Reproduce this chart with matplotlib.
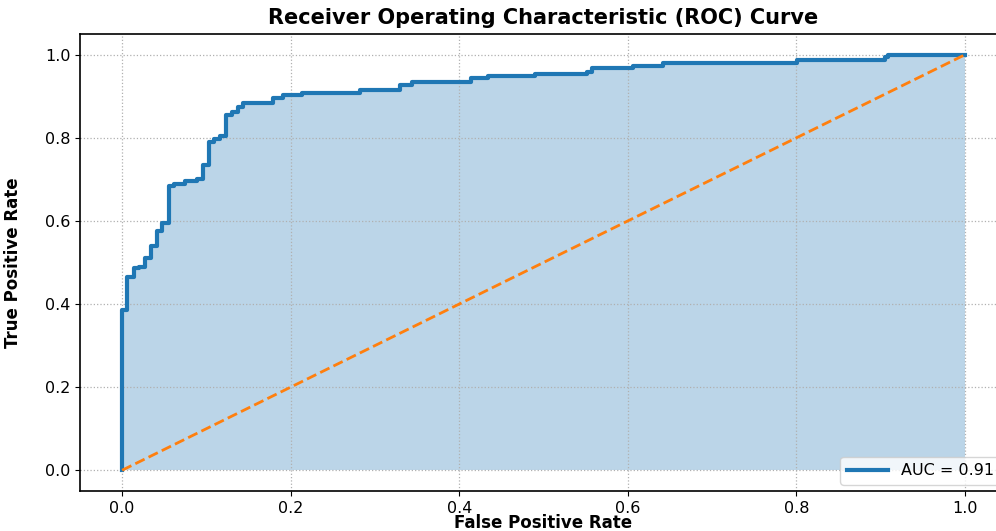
import matplotlib
matplotlib.use("Agg")
import matplotlib.pyplot as plt

# ROC-Kurve: Eckpunkte (x wo der Sprung kommt, neues y)
step_fpr = [0.0, 0.006, 0.014, 0.020, 0.027, 0.034, 0.041, 0.047, 0.056, 0.062,
            0.075, 0.089, 0.096, 0.103, 0.109, 0.116, 0.123, 0.130, 0.138, 0.144,
            0.179, 0.191, 0.214, 0.282, 0.330, 0.344, 0.414, 0.434, 0.490, 0.552,
            0.558, 0.606, 0.642, 0.801, 0.905, 0.909]
step_tpr = [0.385, 0.464, 0.486, 0.490, 0.510, 0.540, 0.575, 0.594, 0.685, 0.690,
            0.695, 0.702, 0.735, 0.790, 0.798, 0.805, 0.856, 0.863, 0.875, 0.885,
            0.897, 0.904, 0.909, 0.916, 0.928, 0.935, 0.944, 0.949, 0.954, 0.959,
            0.969, 0.974, 0.981, 0.988, 0.995, 1.000]
auc_value = 0.91

# in roc_curve-Form bringen (Ecken)
fpr = [0.0]
tpr = [0.0]
for x, y in zip(step_fpr, step_tpr):
    fpr += [x, x]
    tpr += [tpr[-1], y]
fpr.append(1.0)
tpr.append(1.0)

fig = plt.figure(figsize=(9.96, 5.31), dpi=100)
ax = fig.add_axes([80 / 996, 40 / 531, 927 / 996, 457 / 531])

ax.plot(fpr, tpr, color="#1f77b4", lw=3, label="AUC = %.2f" % auc_value)
ax.fill_between(fpr, tpr, color="#1f77b4", alpha=0.3, lw=0)
ax.plot([0, 1], [0, 1], color="#ff7f0e", lw=2, linestyle="--")

ax.set_xlim(-0.05, 1.05)
ax.set_ylim(-0.05, 1.05)
ax.set_xticks([0.0, 0.2, 0.4, 0.6, 0.8, 1.0])
ax.set_yticks([0.0, 0.2, 0.4, 0.6, 0.8, 1.0])
ax.tick_params(labelsize=11.5)
ax.grid(True, linestyle=":", color="#b0b0b0", lw=0.9)
for s in ax.spines.values():
    s.set_linewidth(1.2)
ax.spines["right"].set_visible(False)

ax.set_title("Receiver Operating Characteristic (ROC) Curve",
             fontsize=15, fontweight="bold", pad=7)
ax.set_xlabel("False Positive Rate", fontsize=12, fontweight="bold", labelpad=-1)
ax.set_ylabel("True Positive Rate", fontsize=12, fontweight="bold")
ax.yaxis.set_label_coords(-58 / 927, 0.5)
ax.legend(loc="lower right", fontsize=11.5, borderaxespad=0.4, handlelength=2.6)

fig.savefig("out.png", dpi=100)
